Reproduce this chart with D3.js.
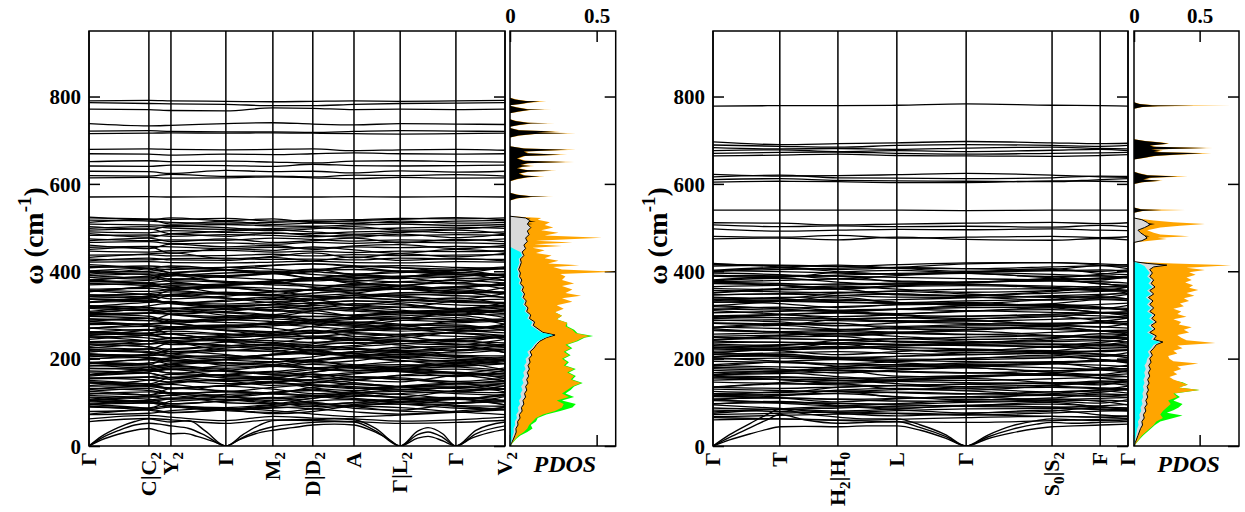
<!DOCTYPE html>
<html>
<head>
<meta charset="utf-8">
<script src="https://cdn.jsdelivr.net/npm/d3@7"></script>
<style>
  body { margin: 0; background: #fff; }
  svg text { font-family: "Liberation Serif", "Times New Roman", serif; font-weight: bold; }
</style>
</head>
<body>
<svg id="chart" width="1245" height="512"></svg>
<script>
// ---------- k-path (fraction of path length) and labels ----------
const leftNodes = [0, 0.144, 0.197, 0.329, 0.442, 0.538, 0.637, 0.748, 0.882, 1];
const leftNodeLabels = ["Γ", "C|C_2", "Y_2", "Γ", "M_2", "D|D_2", "A", "Γ|L_2", "Γ", "V_2"];
const rightNodes = [0, 0.161, 0.301, 0.443, 0.610, 0.817, 0.933, 1];
const rightNodeLabels = ["Γ", "T", "H_2|H_0", "L", "Γ", "S_0|S_2", "F", "Γ"];
const freqTicks = [0, 200, 400, 600, 800];
const pdosTicks = [0, 0.5];

// ---------- left panel bands (cm-1 at each node) ----------
const leftHighBands = [
  [790,791,790,789,788,789,790,789,790,791],
  [786,784,783,782,779,779,782,784,785,786],
  [771,770,768,767,774,773,770,771,770,771],
  [738,733,734,738,740,737,735,738,737,736],
  [721,722,720,719,719,718,720,722,721,720],
  [715,716,717,716,717,716,715,714,715,716],
  [679,680,679,678,679,680,676,678,679,677],
  [669,668,666,668,667,669,671,669,668,669],
  [651,653,651,652,650,648,652,653,651,650],
  [641,640,643,642,640,645,642,641,642,643],
  [629,628,624,631,628,629,625,630,627,629],
  [619,618,622,617,618,616,620,619,621,618],
  [614,615,613,614,616,614,612,615,613,614],
  [570,571,570,571,570,570,571,570,571,570]
];
const leftMidBands = [
  [522,520,519,521,515,517,518,521,520,522],
  [517,515,512,510,512,514,513,511,515,516],
  [508,506,505,507,504,503,506,508,505,507],
  [498,502,499,496,498,500,497,499,501,498],
  [490,488,493,489,487,486,490,492,488,490],
  [482,483,480,484,482,479,483,481,484,482],
  [474,470,472,471,476,473,469,472,470,474],
  [466,468,463,465,462,466,464,467,465,463],
  [455,457,456,452,455,453,456,454,457,455],
  [446,444,447,448,444,446,443,446,445,447],
  [437,438,435,436,439,435,438,436,437,438],
  [428,426,429,430,427,428,426,430,428,427],
  [421,422,420,419,421,423,420,419,422,421],
  [524,518,522,516,520,512,516,519,523,518],
  [512,518,508,514,507,510,509,515,510,512],
  [502,496,503,500,493,497,502,494,497,503],
  [494,497,486,492,495,490,485,489,494,486],
  [486,478,485,480,488,482,478,485,477,485],
  [470,476,468,474,466,470,476,465,473,468],
  [460,452,462,456,459,450,458,461,452,459],
  [450,456,441,452,448,456,449,441,450,444],
  [432,440,442,428,434,442,431,440,433,441],
  [424,430,426,425,432,424,433,425,429,424]
];
const leftDenseBands = [
  [411,407,404,409,414,417,413,408,405,410],
  [408,412,409,403,400,404,410,413,409,406],
  [398,400,405,409,405,399,394,397,402,406],
  [401,398,393,390,395,401,404,399,394,392],
  [390,385,389,396,398,393,387,383,388,394],
  [390,394,391,386,381,378,383,388,392,390],
  [376,379,383,377,374,380,386,389,385,379],
  [377,373,368,371,378,383,380,375,371,369],
  [369,374,378,375,369,366,370,376,379,373],
  [372,367,362,368,372,369,364,360,365,371],
  [357,354,358,364,361,357,355,360,364,368],
  [359,361,357,350,353,357,362,360,353,351],
  [346,349,353,347,344,350,356,359,355,349],
  [342,339,343,349,346,342,340,345,349,353],
  [343,347,344,338,335,339,345,348,344,341],
  [337,333,328,331,338,343,340,335,331,329],
  [336,333,328,325,330,336,339,334,329,327],
  [329,331,327,320,323,327,332,330,323,321],
  [321,317,314,319,324,327,323,318,315,320],
  [315,310,314,321,323,318,312,308,313,319],
  [317,312,307,313,317,314,309,305,310,316],
  [303,305,310,314,310,304,299,302,307,311],
  [299,304,308,305,299,296,300,306,309,303],
  [300,304,301,296,291,288,293,298,302,300],
  [291,287,284,289,294,297,293,288,285,290],
  [288,292,289,283,280,284,290,293,289,286],
  [278,280,285,289,285,279,274,277,282,286],
  [281,278,273,270,275,281,284,279,274,272],
  [270,265,269,276,278,273,267,263,268,274],
  [270,274,271,266,261,258,263,268,272,270],
  [256,259,263,257,254,260,266,269,265,259],
  [257,253,248,251,258,263,260,255,251,249],
  [249,254,258,255,249,246,250,256,259,253],
  [252,247,242,248,252,249,244,240,245,251],
  [237,234,238,244,241,237,235,240,244,248],
  [239,241,237,230,233,237,242,240,233,231],
  [236,241,238,231,224,221,227,234,239,236],
  [234,227,221,229,234,230,223,218,225,233],
  [221,216,212,218,225,229,224,217,213,220],
  [211,207,212,220,216,211,208,215,220,225],
  [218,214,207,203,210,218,221,215,208,206],
  [207,202,196,199,209,215,211,205,199,197],
  [204,209,205,197,193,198,206,210,205,201],
  [200,203,197,188,192,197,204,201,192,189],
  [190,183,188,198,200,194,186,181,187,195],
  [183,190,195,191,183,179,185,193,196,189],
  [177,180,186,191,186,178,172,176,182,188],
  [169,173,179,171,167,175,183,186,181,173],
  [178,174,167,163,170,178,181,175,168,166],
  [163,170,175,171,163,159,165,173,176,169],
  [154,158,164,156,152,160,168,171,166,158],
  [156,151,147,153,160,164,159,152,148,155],
  [155,158,152,143,147,152,159,156,147,144],
  [145,138,143,153,155,149,141,136,142,150],
  [137,140,146,151,146,138,132,136,142,148],
  [144,137,131,139,144,140,133,128,135,143],
  [132,127,121,124,134,140,136,130,124,122],
  [131,136,133,126,119,116,122,129,134,131],
  [116,112,117,125,121,116,113,120,125,130],
  [119,124,120,112,108,113,121,125,120,116],
  [110,103,108,118,120,114,106,101,107,115],
  [106,101,97,103,110,114,109,102,98,105],
  [98,105,110,106,98,94,100,108,111,104],
  [103,99,92,88,95,103,106,100,93,91],
  [95,98,92,83,87,92,99,96,87,84],
  [79,83,89,81,77,85,93,96,91,83],
  [89,82,76,84,89,85,78,73,80,88],
  [72,75,81,86,81,73,67,71,77,83],
  [62,70,66,58,68,64,62,57,60,66],
  [56,63,60,52,60,58,56,52,54,59]
];
// second, more dispersive family of optical branches
const leftDispersiveBands = [
  [415,405,397,403,413,417,410,400,397,409],
  [393,406,412,404,394,399,411,408,398,392],
  [400,407,396,388,395,405,391,387,402,406],
  [386,382,397,402,395,385,390,401,402,389],
  [397,392,381,389,396,383,377,387,394,379],
  [379,389,391,374,372,384,392,386,374,388],
  [380,387,376,368,375,385,371,367,382,386],
  [380,370,362,368,378,382,375,365,362,374],
  [377,372,361,369,376,363,357,367,374,359],
  [353,366,372,364,354,359,371,368,358,352],
  [354,364,366,349,347,359,367,361,349,363],
  [346,342,357,362,355,345,350,361,362,349],
  [355,345,337,343,353,357,350,340,337,349],
  [336,332,347,352,345,335,340,351,352,339],
  [328,341,347,339,329,334,346,343,333,327],
  [342,337,326,334,341,328,322,332,339,324],
  [330,337,326,318,325,335,321,317,332,336],
  [319,329,331,314,312,324,332,326,314,328],
  [308,321,327,319,309,314,326,323,313,307],
  [320,310,302,308,318,322,315,305,302,314],
  [304,314,316,299,297,309,317,311,299,313],
  [305,312,301,293,300,310,296,292,307,311],
  [291,287,302,307,300,290,295,306,307,294],
  [302,297,286,294,301,288,282,292,299,284],
  [297,292,281,289,296,283,277,287,294,279],
  [285,292,281,273,280,290,276,272,287,291],
  [285,275,267,273,283,287,280,270,267,279],
  [269,279,281,264,262,274,282,276,264,278],
  [261,257,272,277,270,260,265,276,277,264],
  [253,266,272,264,254,259,271,268,258,252],
  [260,267,256,248,255,265,251,247,262,266],
  [262,257,246,254,261,248,242,252,259,244],
  [244,254,256,239,237,249,257,251,239,253],
  [250,240,232,238,248,252,245,235,232,244],
  [228,241,247,239,229,234,246,243,233,227],
  [226,222,237,242,235,225,230,241,242,229],
  [224,234,236,219,217,229,237,231,219,233],
  [232,227,216,224,231,218,212,222,229,214],
  [211,207,222,227,220,210,215,226,227,214],
  [215,222,211,203,210,220,206,202,217,221],
  [198,211,217,209,199,204,216,213,203,197],
  [210,200,192,198,208,212,205,195,192,204],
  [191,187,202,207,200,190,195,206,207,194],
  [189,199,201,184,182,194,202,196,184,198],
  [190,197,186,178,185,195,181,177,192,196],
  [192,187,176,184,191,178,172,182,189,174],
  [185,175,167,173,183,187,180,170,167,179],
  [163,176,182,174,164,169,181,178,168,162],
  [164,174,176,159,157,169,177,171,159,173],
  [172,167,156,164,171,158,152,162,169,154],
  [160,167,156,148,155,165,151,147,162,166],
  [146,142,157,162,155,145,150,161,162,149],
  [138,151,157,149,139,144,156,153,143,137],
  [150,140,132,138,148,152,145,135,132,144],
  [147,142,131,139,146,133,127,137,144,129],
  [129,139,141,124,122,134,142,136,124,138],
  [121,117,132,137,130,120,125,136,137,124],
  [125,132,121,113,120,130,116,112,127,131],
  [125,115,107,113,123,127,120,110,107,119],
  [103,116,122,114,104,109,121,118,108,102],
  [104,114,116,99,97,109,117,111,99,113],
  [112,107,96,104,111,98,92,102,109,94],
  [91,87,102,107,100,90,95,106,107,94],
  [95,102,91,83,90,100,86,82,97,101],
  [95,85,77,83,93,97,90,80,77,89],
  [73,86,92,84,74,79,91,88,78,72]
];
// acoustic branches: [k, cm-1]
const leftAcoustic = [
  [[0,0],[0.03,14],[0.07,27],[0.11,36],[0.144,40],[0.17,34],[0.197,28],[0.23,29],[0.26,22],[0.3,10],[0.329,0],[0.36,14],[0.40,28],[0.442,36],[0.49,42],[0.538,48],[0.59,50],[0.637,48],[0.68,35],[0.72,16],[0.748,0],[0.79,18],[0.815,22],[0.85,12],[0.882,0],[0.92,18],[0.96,30],[1,38]],
  [[0,0],[0.03,18],[0.07,35],[0.11,48],[0.144,52],[0.17,50],[0.197,46],[0.24,40],[0.28,24],[0.329,0],[0.37,20],[0.41,36],[0.442,44],[0.49,50],[0.538,54],[0.59,56],[0.637,55],[0.69,34],[0.748,0],[0.79,26],[0.815,32],[0.85,20],[0.882,0],[0.93,28],[1,46]],
  [[0,0],[0.03,22],[0.07,42],[0.11,56],[0.144,62],[0.17,58],[0.197,55],[0.24,58],[0.28,34],[0.329,0],[0.37,26],[0.41,48],[0.442,58],[0.49,60],[0.538,60],[0.59,62],[0.637,60],[0.69,40],[0.748,0],[0.79,34],[0.815,42],[0.85,28],[0.882,0],[0.93,36],[1,55]]
];

// ---------- right panel bands ----------
const rightHighBands = [
  [778,779,779,780,783,780,779,778],
  [696,690,692,694,697,694,692,693],
  [689,686,684,688,690,688,686,688],
  [683,680,681,679,682,684,681,680],
  [676,678,674,676,674,677,679,676],
  [670,672,673,670,668,670,671,672],
  [664,666,668,665,664,663,665,667],
  [622,618,619,621,624,620,616,615],
  [616,620,614,613,612,614,618,617],
  [610,612,608,607,606,605,610,612],
  [604,606,605,603,603,607,606,605],
  [540,540,540,540,539,540,540,540],
  [511,510,506,508,510,512,509,511],
  [506,502,504,502,503,501,505,502],
  [497,492,494,496,495,497,494,493],
  [480,478,482,476,478,480,477,479],
  [474,476,472,478,473,471,475,472]
];
const rightDenseBands = [
  [416,413,411,415,419,420,417,414],
  [412,414,411,407,406,410,413,415],
  [401,404,407,409,406,402,400,403],
  [402,399,396,394,398,401,403,400],
  [391,388,391,395,397,393,389,387],
  [389,391,389,386,383,381,384,387],
  [376,379,382,378,375,380,384,385],
  [375,372,369,371,375,378,376,373],
  [365,368,371,373,370,366,364,367],
  [361,358,361,365,367,363,359,357],
  [356,353,351,355,359,360,357,354],
  [346,349,352,348,345,350,354,355],
  [346,348,345,341,340,344,347,349],
  [339,336,333,335,339,342,340,337],
  [336,333,330,328,332,335,337,334],
  [329,331,329,326,323,321,324,327],
  [319,316,319,323,325,321,317,315],
  [314,311,309,313,317,318,315,312],
  [305,308,311,313,310,306,304,307],
  [298,301,304,300,297,302,306,307],
  [297,294,291,293,297,300,298,295],
  [292,294,291,287,286,290,293,295],
  [287,289,287,284,281,279,282,285],
  [282,279,276,274,278,281,283,280],
  [272,269,267,271,275,276,273,270],
  [265,262,265,269,271,267,263,261],
  [256,259,262,258,255,260,264,265],
  [251,254,257,259,256,252,250,253],
  [249,246,243,245,249,252,250,247],
  [244,246,243,239,238,242,245,247],
  [240,237,234,232,236,239,241,238],
  [236,238,236,233,230,228,231,234],
  [230,227,225,229,233,234,231,228],
  [225,222,225,229,231,227,223,221],
  [217,220,223,225,222,218,216,219],
  [210,213,216,212,209,214,218,219],
  [209,206,203,205,209,212,210,207],
  [204,206,203,199,198,202,205,207],
  [199,201,199,196,193,191,194,197],
  [194,191,188,186,190,193,195,192],
  [184,181,179,183,187,188,185,182],
  [177,174,177,181,183,179,175,173],
  [168,171,174,170,167,172,176,177],
  [163,166,169,171,168,164,162,165],
  [161,158,155,157,161,164,162,159],
  [156,158,155,151,150,154,157,159],
  [151,153,151,148,145,143,146,149],
  [146,143,140,138,142,145,147,144],
  [135,132,135,139,141,137,133,131],
  [130,127,125,129,133,134,131,128],
  [120,123,126,122,119,124,128,129],
  [115,118,121,123,120,116,114,117],
  [113,110,107,109,113,116,114,111],
  [108,110,107,103,102,106,109,111],
  [104,101,98,96,100,103,105,102],
  [97,99,97,94,91,89,92,95],
  [87,84,87,91,93,89,85,83],
  [82,79,77,81,85,86,83,80],
  [72,75,78,74,71,76,80,81],
  [67,70,73,75,72,68,66,69],
  [65,62,59,61,65,68,66,63],
  [60,62,59,55,54,58,61,63]
];
const rightDispersiveBands = [
  [418,410,404,409,417,420,414,406],
  [399,409,414,407,400,404,413,411],
  [402,408,399,393,398,406,395,392],
  [389,386,398,402,396,388,393,401],
  [396,392,383,390,395,385,380,388],
  [380,388,389,376,374,384,390,385],
  [378,384,375,369,374,382,371,368],
  [376,368,362,367,375,378,372,364],
  [372,368,359,366,371,361,356,364],
  [351,361,366,359,352,356,365,363],
  [350,358,359,346,344,354,360,355],
  [341,338,350,354,348,340,345,353],
  [335,332,344,348,342,334,339,347],
  [332,340,341,328,326,336,342,337],
  [321,331,336,329,322,326,335,333],
  [330,326,317,324,329,319,314,322],
  [322,314,308,313,321,324,318,310],
  [312,318,309,303,308,316,305,302],
  [310,302,296,301,309,312,306,298],
  [291,301,306,299,292,296,305,303],
  [294,300,291,285,290,298,287,284],
  [281,278,290,294,288,280,285,293],
  [288,284,275,282,287,277,272,280],
  [272,280,281,268,266,276,282,277],
  [270,276,267,261,266,274,263,260],
  [268,260,254,259,267,270,264,256],
  [264,260,251,258,263,253,248,256],
  [243,253,258,251,244,248,257,255],
  [242,250,251,238,236,246,252,247],
  [233,230,242,246,240,232,237,245],
  [227,224,236,240,234,226,231,239],
  [224,232,233,220,218,228,234,229],
  [213,223,228,221,214,218,227,225],
  [222,218,209,216,221,211,206,214],
  [214,206,200,205,213,216,210,202],
  [204,210,201,195,200,208,197,194],
  [202,194,188,193,201,204,198,190],
  [183,193,198,191,184,188,197,195],
  [186,192,183,177,182,190,179,176],
  [173,170,182,186,180,172,177,185],
  [180,176,167,174,179,169,164,172],
  [164,172,173,160,158,168,174,169],
  [162,168,159,153,158,166,155,152],
  [160,152,146,151,159,162,156,148],
  [156,152,143,150,155,145,140,148],
  [135,145,150,143,136,140,149,147],
  [134,142,143,130,128,138,144,139],
  [125,122,134,138,132,124,129,137],
  [119,116,128,132,126,118,123,131],
  [116,124,125,112,110,120,126,121],
  [105,115,120,113,106,110,119,117],
  [114,110,101,108,113,103,98,106],
  [106,98,92,97,105,108,102,94],
  [96,102,93,87,92,100,89,86],
  [94,86,80,85,93,96,90,82],
  [75,85,90,83,76,80,89,87],
  [78,84,75,69,74,82,71,68]
];
const rightAcoustic = [
  [[0,0],[0.04,14],[0.09,28],[0.13,38],[0.161,44],[0.22,45],[0.301,44],[0.37,46],[0.443,46],[0.5,36],[0.56,18],[0.61,0],[0.66,16],[0.72,30],[0.78,40],[0.817,44],[0.87,46],[0.933,48],[1,50]],
  [[0,0],[0.04,20],[0.09,42],[0.13,60],[0.161,72],[0.22,60],[0.301,52],[0.37,54],[0.443,56],[0.5,42],[0.56,22],[0.61,0],[0.66,20],[0.72,38],[0.78,50],[0.817,54],[0.87,52],[0.933,54],[1,56]],
  [[0,0],[0.04,26],[0.09,52],[0.13,72],[0.161,84],[0.22,74],[0.301,66],[0.37,62],[0.443,62],[0.5,48],[0.56,26],[0.61,0],[0.66,24],[0.72,46],[0.78,58],[0.817,62],[0.87,60],[0.933,58],[1,60]]
];

// ---------- PDOS, cumulative outlines: [cm-1, states] ----------
const leftPdosGreen = [[0,0],[8,0.018],[16,0.035],[24,0.06],[32,0.1],[40,0.13],[48,0.12],[56,0.15],[64,0.16],[72,0.21],[80,0.29],[88,0.36],[96,0.38],[104,0.3],[112,0.37],[120,0.32],[128,0.35],[136,0.37],[144,0.42],[152,0.36],[160,0.38],[168,0.34],[176,0.38],[184,0.32],[192,0.34],[200,0.31],[208,0.35],[216,0.32],[224,0.36],[232,0.33],[240,0.39],[248,0.43],[252,0.48],[258,0.39],[266,0.37],[274,0.33],[282,0.33],[290,0.27],[298,0.3],[306,0.26],[307,0]];
const leftPdosOrange = [[0,0],[8,0.015],[16,0.03],[24,0.05],[32,0.08],[40,0.1],[48,0.11],[56,0.13],[64,0.15],[72,0.19],[80,0.26],[88,0.3],[96,0.31],[104,0.27],[112,0.34],[120,0.3],[128,0.33],[136,0.36],[144,0.41],[152,0.35],[160,0.37],[168,0.33],[176,0.37],[184,0.31],[192,0.33],[200,0.3],[208,0.34],[216,0.31],[224,0.35],[232,0.32],[240,0.38],[248,0.42],[252,0.46],[258,0.38],[266,0.36],[274,0.32],[282,0.33],[290,0.27],[298,0.3],[306,0.26],[314,0.31],[322,0.27],[330,0.36],[338,0.3],[344,0.41],[350,0.32],[358,0.36],[366,0.3],[372,0.37],[380,0.3],[388,0.32],[394,0.29],[399,0.61],[404,0.3],[410,0.25],[414,0.4],[418,0.22],[424,0.28],[430,0.2],[436,0.24],[442,0.15],[448,0.2],[454,0.13],[458,0.3],[462,0.14],[466,0.36],[470,0.15],[477,0.53],[482,0.2],[488,0.28],[494,0.18],[500,0.25],[506,0.2],[512,0.23],[518,0.16],[522,0.18],[526,0],
  [562,0],[567,0.05],[570,0.13],[571,0.25],[572,0.13],[575,0.05],[580,0],
  [606,0],[611,0.05],[615,0.11],[617,0.2],[619,0.09],[624,0.06],[628,0.11],[630,0.27],[632,0.1],[636,0.05],[639,0.08],[641,0.14],[643,0.07],[647,0.11],[650,0.37],[653,0.09],[658,0.05],[664,0.09],[667,0.33],[670,0.11],[674,0.09],[678,0.38],[681,0.09],[686,0],
  [706,0],[711,0.06],[714,0.15],[716,0.38],[718,0.16],[720,0.29],[723,0.06],[728,0],
  [731,0],[735,0.06],[738,0.13],[739,0.26],[740,0.11],[744,0.04],[748,0],
  [762,0],[766,0.06],[769,0.12],[770,0.24],[771,0.11],[775,0.05],[779,0],
  [780,0],[783,0.07],[786,0.11],[789,0.21],[790,0.1],[793,0.04],[797,0]];
const leftPdosBlack = [[498,0],[501,0.1],[504,0.04],[508,0.13],[511,0.06],[514,0.15],[517,0.08],[520,0.12],[524,0],
  [562,0],[567,0.04],[570,0.12],[571,0.22],[572,0.12],[575,0.04],[580,0],
  [606,0],[611,0.04],[615,0.1],[617,0.17],[619,0.08],[624,0.05],[628,0.1],[630,0.24],[632,0.09],[636,0.04],[639,0.07],[641,0.12],[643,0.06],[647,0.1],[650,0.32],[653,0.08],[658,0.04],[664,0.08],[667,0.29],[670,0.1],[674,0.08],[678,0.33],[681,0.08],[686,0],
  [706,0],[711,0.05],[714,0.14],[716,0.33],[718,0.15],[720,0.26],[723,0.05],[728,0],
  [731,0],[735,0.05],[738,0.12],[739,0.22],[740,0.1],[744,0.03],[748,0],
  [762,0],[766,0.05],[769,0.11],[770,0.2],[771,0.1],[775,0.04],[779,0],
  [780,0],[783,0.06],[786,0.1],[789,0.17],[790,0.09],[793,0.03],[797,0]];
const leftPdosGray = [[0,0],[8,0.01],[16,0.02],[24,0.028],[32,0.036],[40,0.034],[48,0.046],[56,0.044],[64,0.058],[72,0.054],[80,0.07],[88,0.066],[96,0.08],[104,0.075],[112,0.09],[120,0.084],[128,0.097],[136,0.09],[144,0.104],[152,0.096],[160,0.108],[168,0.1],[176,0.112],[184,0.104],[192,0.116],[200,0.11],[208,0.126],[216,0.116],[224,0.138],[232,0.152],[240,0.172],[248,0.21],[254,0.26],[260,0.19],[268,0.162],[276,0.134],[284,0.142],[292,0.112],[300,0.12],[308,0.096],[316,0.104],[324,0.086],[332,0.094],[340,0.076],[348,0.084],[356,0.07],[364,0.078],[372,0.06],[380,0.068],[388,0.055],[396,0.06],[404,0.05],[412,0.058],[420,0.065],[428,0.06],[436,0.08],[444,0.07],[452,0.09],[460,0.08],[468,0.1],[476,0.09],[484,0.11],[492,0.1],[500,0.12],[508,0.1],[516,0.115],[522,0.09],[526,0]];
const leftPdosCyan = [[0,0],[8,0.006],[16,0.012],[24,0.016],[32,0.022],[40,0.02],[48,0.03],[56,0.028],[64,0.04],[72,0.036],[80,0.05],[88,0.045],[96,0.058],[104,0.052],[112,0.065],[120,0.06],[128,0.072],[136,0.064],[144,0.078],[152,0.07],[160,0.082],[168,0.076],[176,0.09],[184,0.082],[192,0.095],[200,0.09],[208,0.11],[216,0.1],[224,0.125],[232,0.14],[240,0.16],[248,0.2],[254,0.25],[260,0.18],[268,0.15],[276,0.12],[284,0.13],[292,0.1],[300,0.11],[308,0.085],[316,0.095],[324,0.075],[332,0.085],[340,0.065],[348,0.075],[356,0.06],[364,0.068],[372,0.05],[380,0.058],[388,0.045],[396,0.05],[404,0.04],[412,0.048],[420,0.055],[428,0.05],[436,0.07],[444,0.06],[450,0.03],[456,0]];

const rightPdosGreen = [[0,0],[8,0.022],[16,0.045],[24,0.07],[32,0.1],[40,0.13],[48,0.16],[56,0.2],[64,0.3],[70,0.37],[76,0.25],[82,0.3],[88,0.34],[96,0.37],[104,0.3],[112,0.35],[120,0.31],[128,0.5],[134,0.34],[140,0.41],[146,0.37],[150,0.3],[152,0]];
const rightPdosOrange = [[0,0],[8,0.02],[16,0.04],[24,0.06],[32,0.09],[40,0.12],[48,0.15],[56,0.17],[64,0.22],[72,0.2],[80,0.22],[88,0.25],[96,0.28],[104,0.26],[112,0.33],[120,0.3],[128,0.5],[134,0.34],[140,0.41],[146,0.36],[152,0.3],[158,0.27],[164,0.33],[170,0.3],[176,0.36],[182,0.33],[189,0.49],[194,0.3],[200,0.27],[206,0.26],[212,0.33],[218,0.3],[224,0.37],[230,0.33],[236,0.62],[242,0.4],[248,0.36],[254,0.33],[260,0.42],[266,0.38],[272,0.44],[278,0.34],[284,0.36],[290,0.3],[296,0.4],[302,0.33],[308,0.36],[314,0.3],[320,0.38],[326,0.35],[332,0.42],[338,0.38],[344,0.46],[350,0.4],[357,0.49],[362,0.42],[368,0.45],[374,0.39],[380,0.44],[386,0.4],[392,0.47],[398,0.42],[403,0.54],[408,0.4],[414,0.74],[418,0.3],[422,0],
  [466,0],[470,0.12],[474,0.25],[477,0.18],[480,0.42],[484,0.2],[488,0.15],[494,0.1],[500,0.2],[504,0.35],[508,0.54],[512,0.3],[516,0.15],[522,0],
  [534,0],[538,0.07],[540,0.39],[542,0.06],[546,0],
  [600,0],[604,0.07],[607,0.22],[610,0.08],[614,0.14],[617,0.41],[620,0.11],[624,0.05],[628,0],
  [656,0],[660,0.09],[664,0.17],[667,0.33],[670,0.59],[673,0.17],[676,0.22],[679,0.15],[682,0.6],[685,0.17],[688,0.13],[692,0.27],[695,0.22],[698,0.09],[702,0],
  [772,0],[776,0.07],[778,0.2],[779,0.74],[780,0.16],[783,0.05],[787,0]];
const rightPdosBlack = [[476,0],[480,0.12],[484,0.04],[500,0],[505,0.1],[508,0.16],[512,0.06],[516,0],
  [534,0],[538,0.06],[540,0.21],[542,0.05],[546,0],
  [600,0],[604,0.06],[607,0.2],[610,0.07],[614,0.12],[617,0.33],[620,0.1],[624,0.04],[628,0],
  [656,0],[660,0.08],[664,0.15],[667,0.3],[670,0.52],[673,0.15],[676,0.2],[679,0.13],[682,0.55],[685,0.15],[688,0.12],[692,0.26],[695,0.2],[698,0.08],[702,0],
  [772,0],[776,0.06],[778,0.18],[779,0.46],[780,0.14],[783,0.04],[787,0]];
const rightPdosGray = [[0,0],[8,0.01],[16,0.02],[24,0.03],[32,0.04],[40,0.05],[48,0.065],[56,0.06],[64,0.078],[72,0.072],[80,0.09],[88,0.082],[96,0.1],[104,0.09],[112,0.105],[120,0.096],[128,0.11],[136,0.1],[144,0.115],[152,0.104],[160,0.12],[168,0.11],[176,0.125],[184,0.112],[192,0.13],[200,0.12],[208,0.14],[216,0.125],[224,0.15],[232,0.17],[238,0.22],[244,0.15],[252,0.17],[260,0.12],[268,0.16],[276,0.13],[284,0.17],[292,0.135],[300,0.16],[308,0.12],[316,0.15],[324,0.12],[332,0.145],[340,0.11],[348,0.15],[356,0.12],[364,0.16],[372,0.13],[380,0.15],[388,0.12],[396,0.14],[404,0.12],[410,0.15],[414,0.25],[418,0.1],[422,0],
  [466,0],[470,0.06],[476,0.1],[482,0.08],[488,0.05],[494,0.03],[500,0.08],[506,0.12],[512,0.1],[518,0.06],[522,0]];
const rightPdosCyan = [[0,0],[8,0.005],[16,0.01],[24,0.015],[32,0.02],[40,0.025],[48,0.035],[56,0.03],[64,0.045],[72,0.04],[80,0.055],[88,0.05],[96,0.065],[104,0.058],[112,0.07],[120,0.064],[128,0.075],[136,0.068],[144,0.08],[152,0.072],[160,0.085],[168,0.078],[176,0.09],[184,0.08],[192,0.095],[200,0.1],[208,0.12],[216,0.105],[224,0.13],[232,0.15],[238,0.2],[244,0.13],[252,0.15],[260,0.1],[268,0.14],[276,0.11],[284,0.15],[292,0.115],[300,0.14],[308,0.1],[316,0.13],[324,0.1],[332,0.125],[340,0.09],[348,0.13],[356,0.1],[364,0.14],[372,0.11],[380,0.13],[388,0.1],[396,0.12],[404,0.1],[412,0.08],[418,0.04],[422,0]];

// ---------- drawing ----------
const svg = d3.select("#chart");
const plotTop = 31, plotBottom = 446;
const y = d3.scaleLinear().domain([0, 950]).range([plotBottom, plotTop]);
const font = '"Liberation Serif", "Times New Roman", serif';

function styleAxis(g, size) {
  g.attr("font-family", font).attr("font-size", size).attr("font-weight", "bold");
  g.select(".domain").remove();
  g.selectAll(".tick line").attr("stroke", "#000").attr("stroke-width", 1.5);
  g.selectAll(".tick text").attr("fill", "#000");
}

function drawBandPanel(cfg) {
  const x = d3.scaleLinear().domain([0, 1]).range([cfg.x0, cfg.x1]);
  const g = svg.append("g");

  g.append("clipPath").attr("id", cfg.id + "-clip")
    .append("rect").attr("x", cfg.x0).attr("y", plotTop)
    .attr("width", cfg.x1 - cfg.x0).attr("height", plotBottom - plotTop);

  // inward ticks on both sides
  g.append("g").attr("transform", `translate(${cfg.x0},0)`)
    .call(d3.axisLeft(y).tickValues(freqTicks).tickSizeInner(-11).tickSizeOuter(0).tickPadding(8))
    .call(a => styleAxis(a, 21))
    .call(a => a.selectAll(".tick text").attr("dy", "0.34em"));
  g.append("g").attr("transform", `translate(${cfg.x1},0)`)
    .call(d3.axisRight(y).tickValues(freqTicks).tickSizeInner(-11).tickSizeOuter(0).tickFormat(""))
    .call(a => styleAxis(a, 21));

  // high-symmetry lines
  g.selectAll(".kline").data(cfg.nodes).join("line")
    .attr("x1", d => x(d)).attr("x2", d => x(d))
    .attr("y1", plotTop).attr("y2", plotBottom)
    .attr("stroke", "#000").attr("stroke-width", 1.5);

  const bandG = g.append("g").attr("clip-path", `url(#${cfg.id}-clip)`);
  const line = d3.line().x((d, i) => x(cfg.nodes[i])).y(d => y(d)).curve(d3.curveMonotoneX);
  bandG.selectAll(".band").data(cfg.bands).join("path")
    .attr("d", line).attr("fill", "none").attr("stroke", "#000").attr("stroke-width", 1.3);
  const aLine = d3.line().x(d => x(d[0])).y(d => y(d[1])).curve(d3.curveMonotoneX);
  bandG.selectAll(".acoustic").data(cfg.acoustic).join("path")
    .attr("d", aLine).attr("fill", "none").attr("stroke", "#000").attr("stroke-width", 1.4);

  g.append("rect").attr("x", cfg.x0).attr("y", plotTop)
    .attr("width", cfg.x1 - cfg.x0).attr("height", plotBottom - plotTop)
    .attr("fill", "none").attr("stroke", "#000").attr("stroke-width", 1.5);

  // k-point labels, rotated, with subscripts written as "_x"
  cfg.nodes.forEach((k, i) => {
    const t = g.append("text")
      .attr("transform", `translate(${x(k) + 7},${plotBottom + 6}) rotate(-90)`)
      .attr("text-anchor", "end").attr("font-size", 22).attr("fill", "#000");
    const parts = cfg.labels[i].split(/_(.)/);
    parts.forEach((p, j) => {
      if (!p) return;
      const sub = j % 2 === 1;
      t.append("tspan").text(p)
        .attr("font-size", sub ? 15 : 22)
        .attr("dy", sub ? 5 : (j > 0 ? -5 : 0));
    });
  });

  // y title
  const yt = g.append("text")
    .attr("transform", `translate(${cfg.x0 - 46},236) rotate(-90)`)
    .attr("text-anchor", "middle").attr("font-size", 28).attr("fill", "#000");
  yt.append("tspan").text("ω (cm");
  yt.append("tspan").text("-1").attr("font-size", 19).attr("dy", -12);
  yt.append("tspan").text(")").attr("dy", 12);
}

function drawPdosPanel(cfg) {
  const x = d3.scaleLinear().domain([0, cfg.max]).range([cfg.x0, cfg.x1]);
  const g = svg.append("g");

  g.append("g").attr("transform", `translate(${cfg.x1},0)`)
    .call(d3.axisRight(y).tickValues(freqTicks).tickSizeInner(-11).tickSizeOuter(0).tickFormat(""))
    .call(a => styleAxis(a, 21));
  g.append("g").attr("transform", `translate(0,${plotTop})`)
    .call(d3.axisTop(x).tickValues(pdosTicks).tickSizeInner(-11).tickSizeOuter(0).tickPadding(8)
      .tickFormat(d => d === 0 ? "0" : d3.format(".1f")(d)))
    .call(a => styleAxis(a, 21));
  g.append("g").attr("transform", `translate(0,${plotBottom})`)
    .call(d3.axisBottom(x).tickValues(pdosTicks).tickSizeInner(-11).tickSizeOuter(0).tickFormat(""))
    .call(a => styleAxis(a, 21));

  const area = d3.area().y(d => y(d[0])).x0(x(0)).x1(d => x(d[1]));
  const edge = d3.line().y(d => y(d[0])).x(d => x(d[1]));
  const layers = [
    [cfg.green, "#00ff00"],
    [cfg.orange, "#ffa500"],
    [cfg.black, "#000000"],
    [cfg.gray, "#d9d9d9"]
  ];
  layers.forEach(([data, color]) => {
    g.append("path").datum(data).attr("d", area).attr("fill", color);
  });
  g.append("path").datum(cfg.gray).attr("d", edge)
    .attr("fill", "none").attr("stroke", "#000").attr("stroke-width", 1);
  g.append("path").datum(cfg.cyan).attr("d", area).attr("fill", "#00ffff");

  g.append("rect").attr("x", cfg.x0).attr("y", plotTop)
    .attr("width", cfg.x1 - cfg.x0).attr("height", plotBottom - plotTop)
    .attr("fill", "none").attr("stroke", "#000").attr("stroke-width", 1.5);

  g.append("text").text("PDOS")
    .attr("x", (cfg.x0 + cfg.x1) / 2 + 2).attr("y", plotBottom + 26)
    .attr("text-anchor", "middle").attr("font-size", 24)
    .attr("font-style", "italic").attr("fill", "#000");
}

drawBandPanel({
  id: "left", x0: 89, x1: 505, nodes: leftNodes, labels: leftNodeLabels,
  bands: [...leftHighBands, ...leftMidBands, ...leftDenseBands, ...leftDispersiveBands], acoustic: leftAcoustic
});
drawPdosPanel({
  x0: 510, x1: 615.7, max: 0.61,
  green: leftPdosGreen, orange: leftPdosOrange, black: leftPdosBlack, gray: leftPdosGray, cyan: leftPdosCyan
});
drawBandPanel({
  id: "right", x0: 713, x1: 1128, nodes: rightNodes, labels: rightNodeLabels,
  bands: [...rightHighBands, ...rightDenseBands, ...rightDispersiveBands], acoustic: rightAcoustic
});
drawPdosPanel({
  x0: 1134, x1: 1239, max: 0.8,
  green: rightPdosGreen, orange: rightPdosOrange, black: rightPdosBlack, gray: rightPdosGray, cyan: rightPdosCyan
});
</script>
</body>
</html>
